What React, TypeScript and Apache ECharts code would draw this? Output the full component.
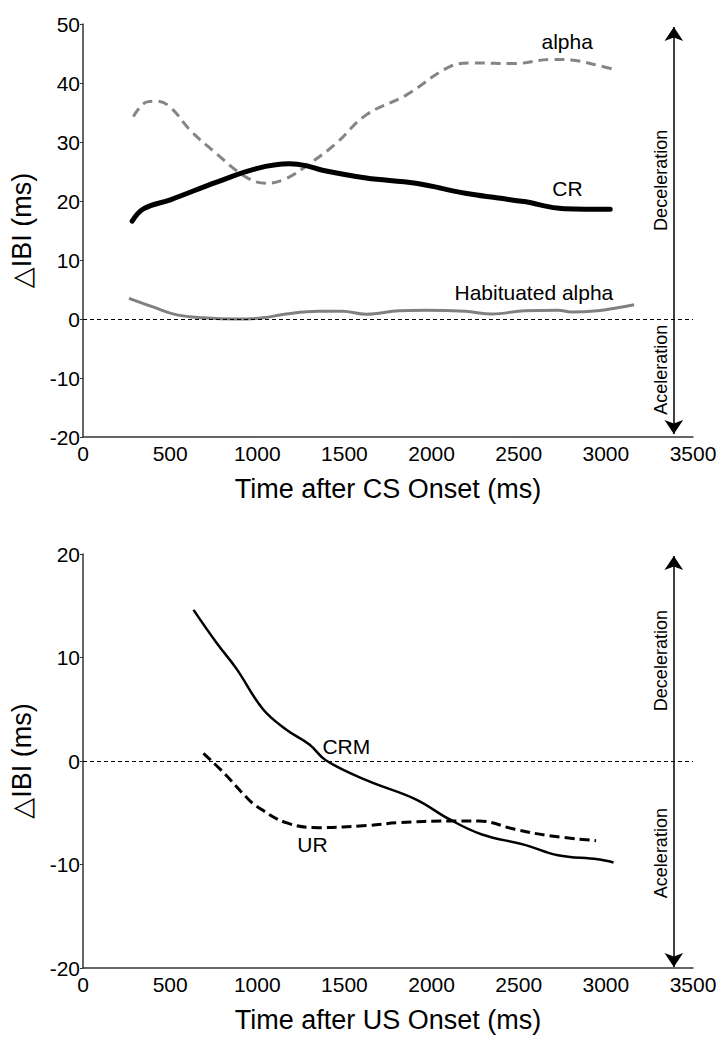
import React, { useEffect, useRef } from "react";
import * as echarts from "echarts";

// ---- Top panel (time after CS onset) ----
const crX = [282, 349, 501, 767, 995, 1185, 1279, 1374, 1625, 1909, 2194, 2383, 2530, 2763, 3025];
const crY = [16.6, 18.7, 20.2, 23.2, 25.5, 26.3, 26.0, 25.2, 23.9, 23.0, 21.3, 20.5, 19.9, 18.7, 18.6];

const alphaX = [289, 368, 425, 501, 615, 767, 938, 1051, 1165, 1299, 1450, 1625, 1852, 2099, 2232, 2479, 2688, 2801, 2953, 3048];
const alphaY = [34.3, 36.8, 36.9, 35.9, 32.0, 28.0, 24.0, 23.0, 23.8, 26.3, 29.7, 34.6, 37.9, 42.7, 43.4, 43.3, 44.0, 43.9, 43.0, 42.3];

const habX = [264, 406, 539, 691, 881, 1033, 1165, 1355, 1488, 1625, 1814, 1966, 2194, 2346, 2535, 2725, 2801, 2953, 3067, 3162];
const habY = [3.5, 2.0, 0.7, 0.2, 0.0, 0.2, 0.85, 1.3, 1.3, 0.8, 1.4, 1.5, 1.3, 0.85, 1.4, 1.5, 1.2, 1.4, 1.9, 2.4];

// ---- Bottom panel (time after US onset) ----
const crmX = [634, 767, 881, 1033, 1165, 1299, 1393, 1625, 1909, 2099, 2289, 2535, 2725, 2953, 3044];
const crmY = [14.6, 11.4, 8.9, 5.0, 3.05, 1.6, 0.07, -1.85, -3.7, -5.6, -7.1, -8.1, -9.1, -9.5, -9.8];

const urX = [691, 805, 938, 995, 1165, 1355, 1625, 1814, 2099, 2270, 2479, 2668, 2944];
const urY = [0.74, -1.1, -3.5, -4.35, -5.96, -6.44, -6.24, -5.96, -5.8, -5.8, -6.6, -7.2, -7.7];

// axis settings
const xMin = 0, xMax = 3500, xStep = 500;
const topYMin = -20, topYMax = 50, topYStep = 10;
const botYMin = -20, botYMax = 20, botYStep = 10;

// annotation anchors (data units)
const arrowX = 3390;
const topArrow = [49.5, -19.5];
const botArrow = [19.8, -19.9];
const topLabels = [
  { name: "alpha", x: 2778, y: 47.0 },
  { name: "CR", x: 2780, y: 22.1 },
  { name: "Habituated alpha", x: 2587, y: 4.5 },
];
const botLabels = [
  { name: "CRM", x: 1511, y: 1.4 },
  { name: "UR", x: 1317, y: -8.05 },
];
const topDir = [
  { name: "Deceleration", x: 3315, y: 23.5 },
  { name: "Aceleration", x: 3315, y: -8.6 },
];
const botDir = [
  { name: "Deceleration", x: 3315, y: 9.7 },
  { name: "Aceleration", x: 3315, y: -8.9 },
];

const FONT = "'Liberation Sans', Arial, 'DejaVu Sans', sans-serif";

const zip = (xs: number[], ys: number[]) => xs.map((x, i) => [x, ys[i]]);

function xAxisCfg(grid: number, name: string) {
  return {
    type: "value",
    gridIndex: grid,
    min: xMin,
    max: xMax,
    interval: xStep,
    name,
    nameLocation: "middle",
    nameGap: 38,
    nameTextStyle: { fontSize: 27, color: "#000", fontFamily: FONT },
    axisLine: { onZero: false, lineStyle: { color: "#333", width: 1.5 } },
    axisTick: { show: false },
    axisLabel: {
      fontSize: 21,
      color: "#000",
      fontFamily: FONT,
      margin: 6,
      formatter: (v: number) => String(v),
    },
    splitLine: { show: false },
  };
}

function yAxisCfg(grid: number, min: number, max: number, step: number) {
  return {
    type: "value",
    gridIndex: grid,
    min,
    max,
    interval: step,
    name: "△IBI (ms)",
    nameLocation: "middle",
    nameGap: 48,
    nameTextStyle: { fontSize: 27, color: "#000", fontFamily: FONT },
    axisLine: { show: true, onZero: false, lineStyle: { color: "#333", width: 1.5 } },
    axisTick: { show: true, length: 3, lineStyle: { color: "#333", width: 1 } },
    axisLabel: { fontSize: 21, color: "#000", fontFamily: FONT, margin: 3 },
    splitLine: { show: false },
  };
}

function textPoints(items: { name: string; x: number; y: number }[], rotate = 0, size = 21) {
  return {
    symbol: "circle",
    symbolSize: 0,
    silent: true,
    data: items.map((d) => ({
      coord: [d.x, d.y],
      value: d.name,
      label: {
        show: true,
        position: "inside",
        formatter: d.name,
        rotate,
        fontSize: size,
        color: "#000",
        fontFamily: FONT,
      },
    })),
  };
}

function arrowLine(ys: number[]) {
  return {
    silent: true,
    symbol: ["arrow", "arrow"],
    symbolSize: [14, 14],
    label: { show: false },
    lineStyle: { type: "solid", color: "#000", width: 1.5 },
    data: [[{ coord: [arrowX, ys[0]] }, { coord: [arrowX, ys[1]] }]],
  };
}

const zeroLine = {
  silent: true,
  symbol: "none",
  label: { show: false },
  lineStyle: { type: [4, 3], color: "#000", width: 1 },
  data: [{ yAxis: 0 }],
};

export default function App() {
  const ref = useRef<HTMLDivElement>(null);
  useEffect(() => {
    document.body.style.margin = "0";
    const chart = echarts.init(ref.current!, null, { renderer: "svg" });
    chart.setOption({
      animation: false,
      backgroundColor: "#fff",
      textStyle: { fontFamily: FONT },
      grid: [
        { left: 78, width: 615, top: 24, height: 413 },
        { left: 78, width: 615, top: 554, height: 414 },
      ],
      xAxis: [xAxisCfg(0, "Time after CS Onset (ms)"), xAxisCfg(1, "Time after US Onset (ms)")],
      yAxis: [yAxisCfg(0, topYMin, topYMax, topYStep), yAxisCfg(1, botYMin, botYMax, botYStep)],
      series: [
        {
          name: "zero-top",
          type: "line",
          xAxisIndex: 0,
          yAxisIndex: 0,
          data: [],
          markLine: zeroLine,
          markPoint: textPoints(topDir, 90, 18),
        },
        {
          name: "arrow-top",
          type: "line",
          xAxisIndex: 0,
          yAxisIndex: 0,
          data: [],
          markLine: arrowLine(topArrow),
          markPoint: textPoints(topLabels),
        },
        {
          name: "Habituated alpha",
          type: "line",
          xAxisIndex: 0,
          yAxisIndex: 0,
          smooth: 0.4,
          showSymbol: false,
          data: zip(habX, habY),
          lineStyle: { color: "#808080", width: 3 },
        },
        {
          name: "alpha",
          type: "line",
          xAxisIndex: 0,
          yAxisIndex: 0,
          smooth: 0.4,
          showSymbol: false,
          data: zip(alphaX, alphaY),
          lineStyle: { color: "#858585", width: 3, type: [10, 6] },
        },
        {
          name: "CR",
          type: "line",
          xAxisIndex: 0,
          yAxisIndex: 0,
          smooth: 0.4,
          showSymbol: false,
          data: zip(crX, crY),
          lineStyle: { color: "#000", width: 5, cap: "round" },
        },
        {
          name: "zero-bot",
          type: "line",
          xAxisIndex: 1,
          yAxisIndex: 1,
          data: [],
          markLine: zeroLine,
          markPoint: textPoints(botDir, 90, 18),
        },
        {
          name: "arrow-bot",
          type: "line",
          xAxisIndex: 1,
          yAxisIndex: 1,
          data: [],
          markLine: arrowLine(botArrow),
          markPoint: textPoints(botLabels),
        },
        {
          name: "UR",
          type: "line",
          xAxisIndex: 1,
          yAxisIndex: 1,
          smooth: 0.4,
          showSymbol: false,
          data: zip(urX, urY),
          lineStyle: { color: "#000", width: 3, type: [10, 5] },
        },
        {
          name: "CRM",
          type: "line",
          xAxisIndex: 1,
          yAxisIndex: 1,
          smooth: 0.4,
          showSymbol: false,
          data: zip(crmX, crmY),
          lineStyle: { color: "#000", width: 2.5 },
        },
      ],
    });
    return () => chart.dispose();
  }, []);
  return <div ref={ref} style={{ width: 728, height: 1050 }} />;
}
